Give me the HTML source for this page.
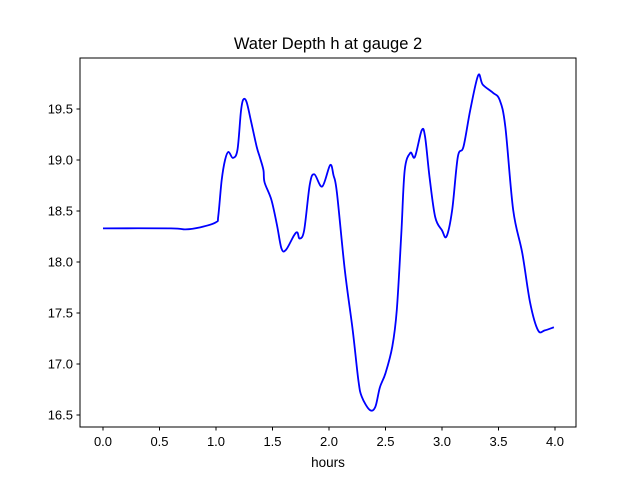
<!DOCTYPE html>
<html><head><meta charset="utf-8"><style>body{margin:0;background:#fff}svg text{font-family:"Liberation Sans","DejaVu Sans",sans-serif}</style></head>
<body>
<svg id="chart" width="640" height="480" xmlns="http://www.w3.org/2000/svg">
<rect width="640" height="480" fill="#fff"/>
<text x="328" y="49" font-size="16.5" text-anchor="middle">Water Depth h at gauge 2</text>
<g id="ticks"></g>
<path id="line" fill="none" stroke="#0000ff" stroke-width="1.8" stroke-linejoin="round"/>
<rect x="80" y="58" width="496" height="369" fill="none" stroke="#000" stroke-width="1"/>
<text x="328" y="467" font-size="13.5" text-anchor="middle">hours</text>
</svg>
<script>
const times=[0,0.6,0.73,0.86,1.0,1.02,1.05,1.08,1.11,1.15,1.19,1.22,1.24,1.27,1.31,1.36,1.39,1.42,1.43,1.49,1.54,1.58,1.62,1.69,1.72,1.74,1.78,1.83,1.87,1.94,2.01,2.04,2.07,2.14,2.21,2.26,2.29,2.36,2.41,2.45,2.50,2.56,2.60,2.64,2.67,2.72,2.76,2.82,2.85,2.89,2.94,3.00,3.04,3.09,3.14,3.19,3.25,3.32,3.36,3.45,3.51,3.56,3.63,3.71,3.78,3.85,3.91,3.99];
const depths=[18.33,18.33,18.32,18.34,18.39,18.45,18.80,19.00,19.08,19.02,19.10,19.47,19.59,19.57,19.38,19.13,19.02,18.90,18.78,18.61,18.36,18.13,18.12,18.26,18.29,18.23,18.31,18.76,18.86,18.74,18.95,18.85,18.68,17.92,17.33,16.84,16.68,16.55,16.58,16.77,16.91,17.17,17.53,18.28,18.90,19.07,19.03,19.29,19.23,18.83,18.44,18.31,18.25,18.51,19.03,19.13,19.49,19.83,19.74,19.66,19.59,19.33,18.51,18.09,17.60,17.33,17.33,17.36];
const xTicks=[0,0.5,1,1.5,2,2.5,3,3.5,4];
const yTicks=[16.5,17,17.5,18,18.5,19,19.5];
const X=t=>103+t*113, Y=v=>109+(19.5-v)*102;
const NS="http://www.w3.org/2000/svg", g=document.getElementById('ticks');
function mk(tag,attrs){const e=document.createElementNS(NS,tag);for(const k in attrs)e.setAttribute(k,attrs[k]);g.appendChild(e);return e;}
xTicks.forEach(t=>{
 const l=mk('line',{x1:X(t),x2:X(t),y1:427,y2:430.5,stroke:'#000'});
 
 
 const s=mk('text',{x:X(t),y:446,'font-size':13,'text-anchor':'middle'});s.textContent=t.toFixed(1);
 
 
});
yTicks.forEach(v=>{
 const l=mk('line',{x1:76.5,x2:80,y1:Y(v),y2:Y(v),stroke:'#000'});
 
 
 const s=mk('text',{x:73,y:Y(v)+4.5,'font-size':13,'text-anchor':'end'});s.textContent=v.toFixed(1);
 
 
});
// Catmull-Rom smoothing
const P=times.map((t,i)=>[X(t),Y(depths[i])]);
let d='M'+P[0][0]+','+P[0][1];
for(let i=0;i<P.length-1;i++){const p0=P[Math.max(0,i-1)],p1=P[i],p2=P[i+1],p3=P[Math.min(P.length-1,i+2)];
 d+=' C'+(p1[0]+(p2[0]-p0[0])/6)+','+(p1[1]+(p2[1]-p0[1])/6)+' '+(p2[0]-(p3[0]-p1[0])/6)+','+(p2[1]-(p3[1]-p1[1])/6)+' '+p2[0]+','+p2[1];}
document.getElementById('line').setAttribute('d',d);
</script>
</body></html>
